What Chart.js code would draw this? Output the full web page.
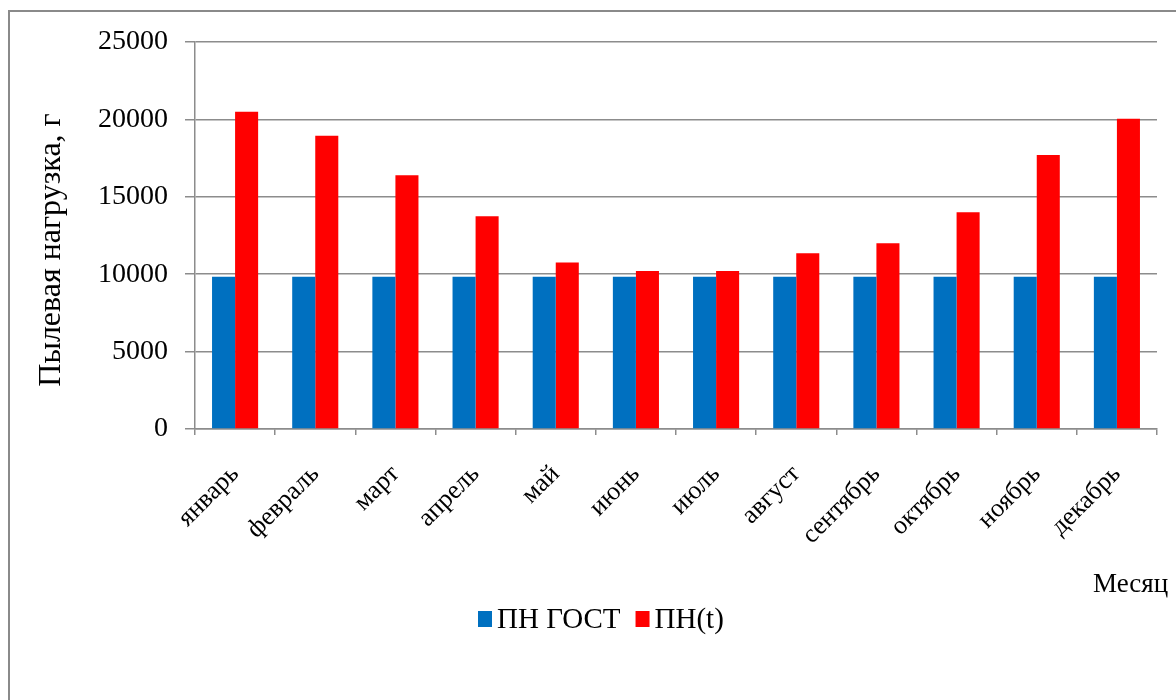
<!DOCTYPE html>
<html lang="ru">
<head>
<meta charset="utf-8">
<title>Пылевая нагрузка</title>
<script src="https://cdn.jsdelivr.net/npm/chart.js@4.4.1/dist/chart.umd.min.js"></script>
<style>
  html, body { margin: 0; padding: 0; background: #fff; overflow: hidden; }
  #wrap { position: relative; width: 1176px; height: 700px; }
  #frame {
    position: absolute; left: 8px; top: 10px; width: 1220px; height: 740px;
    border: 2px solid #8a8a8a; box-sizing: border-box;
  }
  #chart { position: absolute; left: 0; top: 0; }
</style>
</head>
<body>
<div id="wrap">
  <div id="frame"></div>
  <canvas id="chart" width="1176" height="700"></canvas>
</div>
<script>
// ---- data ----
const months = ["январь", "февраль", "март", "апрель", "май", "июнь",
                "июль", "август", "сентябрь", "октябрь", "ноябрь", "декабрь"];
const pnGost = [9830, 9830, 9830, 9830, 9830, 9830, 9830, 9830, 9830, 9830, 9830, 9830];
const pnT = [20500, 18950, 16400, 13750, 10750, 10200, 10200, 11350, 12000, 14000, 17700, 20050];
const yTicks = [0, 5000, 10000, 15000, 20000, 25000];

const seriesNames = ["ПН ГОСТ", "ПН(t)"];
const seriesColors = ["#0070C0", "#FF0000"];

const FONT = "'Liberation Serif', 'Times New Roman', serif";
const GRID = "#8c8c8c";

// legend, axis titles drawn by hand (Excel-like placement)
const extras = {
  id: "extras",
  afterDraw(chart) {
    const { ctx, chartArea } = chart;
    ctx.save();
    ctx.fillStyle = "#000";

    // y title
    ctx.save();
    ctx.translate(52, 250);
    ctx.rotate(-Math.PI / 2);
    ctx.textAlign = "center";
    ctx.textBaseline = "middle";
    ctx.font = "32px " + FONT;
    ctx.fillText("Пылевая нагрузка, г", 0, 0);
    ctx.restore();

    // x title
    ctx.textBaseline = "alphabetic";
    ctx.textAlign = "left";
    ctx.font = "27px " + FONT;
    ctx.fillText("Месяц", chartArea.right - 64, 592);

    // legend
    let x = chartArea.left + 283;
    const base = 628;
    ctx.font = "29px " + FONT;
    chart.data.datasets.forEach((ds) => {
      ctx.fillStyle = ds.backgroundColor;
      ctx.fillRect(x, base - 17, 14, 16);
      x += 19;
      ctx.fillStyle = "#000";
      ctx.fillText(ds.label, x, base);
      x += ctx.measureText(ds.label).width + 15;
    });
    ctx.restore();
  },
};

new Chart(document.getElementById("chart").getContext("2d"), {
  type: "bar",
  data: {
    labels: months,
    datasets: [
      { label: seriesNames[0], data: pnGost, backgroundColor: seriesColors[0] },
      { label: seriesNames[1], data: pnT, backgroundColor: seriesColors[1] },
    ],
  },
  options: {
    responsive: false,
    animation: false,
    categoryPercentage: 0.575,
    barPercentage: 1.0,
    layout: { padding: { left: 38, top: 42, right: 19, bottom: 0 } },
    plugins: {
      legend: { display: false },
      tooltip: { enabled: false },
    },
    scales: {
      x: {
        grid: { display: true, drawOnChartArea: false, offset: true, color: GRID, tickLength: 6, lineWidth: 1.5 },
        border: { color: GRID, width: 1.5 },
        ticks: {
          color: "#000",
          font: { family: FONT, size: 26 },
          minRotation: 45, maxRotation: 45,
          padding: 24,
          autoSkip: false,
        },
        afterFit(scale) { scale.height = 271; },
      },
      y: {
        min: yTicks[0],
        max: yTicks[yTicks.length - 1],
        afterBuildTicks(scale) { scale.ticks = yTicks.map((v) => ({ value: v })); },
        grid: { color: GRID, tickLength: 10, lineWidth: 1.5 },
        border: { color: GRID, width: 1.5 },
        ticks: {
          color: "#000",
          font: { family: FONT, size: 28 },
          padding: 17,
          callback: (v) => String(v),
        },
        afterFit(scale) { scale.width = 195 - 38; },
      },
    },
  },
  plugins: [extras],
});
</script>
</body>
</html>
